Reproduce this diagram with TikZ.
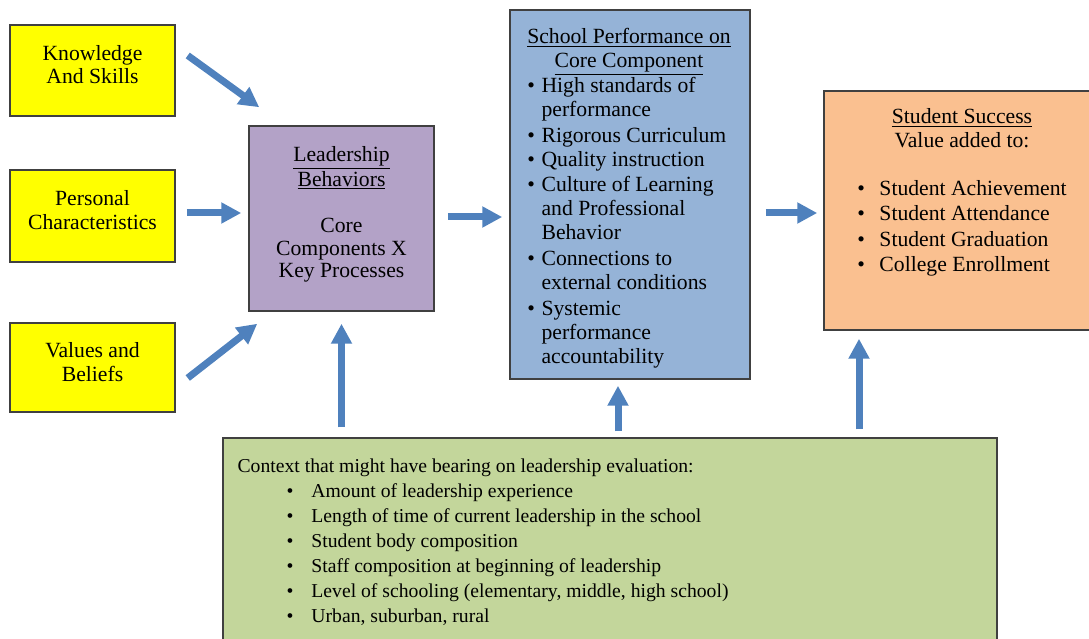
\documentclass[tikz,border=0pt]{standalone}
\usepackage{fontspec}
\setmainfont{Liberation Serif}
\usetikzlibrary{arrows.meta,calc}

\definecolor{arrowblue}{RGB}{79,129,189}
\definecolor{leadpurple}{RGB}{179,162,199}
\definecolor{schoolblue}{RGB}{149,179,215}
\definecolor{successorange}{RGB}{250,192,144}
\definecolor{contextgreen}{RGB}{195,214,155}
\definecolor{inputyellow}{RGB}{255,255,0}

\begin{document}
\begin{tikzpicture}[x=0.6pt, y=-0.6pt,
  box/.style={draw=black!75, line width=0.9pt, inner sep=0pt},
  boxtext/.style={inner sep=0pt, align=center, font=\fontsize{13}{14}\selectfont},
  flow/.style={line width=4.2pt, arrowblue, -{Triangle[width=12pt,length=12pt]}}]
\useasboundingbox (0,0) rectangle (1089,639);

% inputs on the left
\node[box, fill=inputyellow, minimum width=99pt, minimum height=54.6pt] (know) at (92.5,70.5) {};
\node[boxtext] (knowtext) at ($(know)+(0,-6)$) {Knowledge\\And Skills};
\node[box, fill=inputyellow, minimum width=99pt, minimum height=55.2pt] (pers) at (92.5,216) {};
\node[boxtext] (perstext) at ($(pers)+(0,-6)$) {Personal\\Characteristics};
\node[box, fill=inputyellow, minimum width=99pt, minimum height=53.4pt] (vals) at (92.5,367.5) {};
\node[boxtext] (valstext) at ($(vals)+(0,-5.5)$) {Values and\\Beliefs};

% leadership behaviors
\node[box, fill=leadpurple, minimum width=111pt, minimum height=111pt] (lead) at (341.5,218.5) {};
\node[boxtext, font=\fontsize{13}{13.6}\selectfont] (leadtext) at ($(lead)+(0,-4)$)
  {\underline{Leadership}\\\underline{Behaviors}\\[14.4pt]Core\\Components X\\Key Processes};

% school performance
\node[box, fill=schoolblue, minimum width=144pt, minimum height=221.4pt] (school) at (630,194.5) {};
\node[boxtext, font=\fontsize{13}{14.4}\selectfont] (schooltext) at ($(school)+(-1,4)$) {%
  \begin{tabular}{@{}l@{\hspace{4pt}}l@{}}
  \multicolumn{2}{@{}c@{}}{\underline{School Performance on}}\\
  \multicolumn{2}{@{}c@{}}{\underline{Core Component}}\\
  \textbullet & High standards of\\
   & performance\\[1pt]
  \textbullet & Rigorous Curriculum\\
  \textbullet & Quality instruction\\[1pt]
  \textbullet & Culture of Learning\\
   & and Professional\\
   & Behavior\\[1pt]
  \textbullet & Connections to\\
   & external conditions\\[1pt]
  \textbullet & Systemic\\
   & performance\\
   & accountability
  \end{tabular}};

% student success
\node[box, fill=successorange, minimum width=160.8pt, minimum height=143.4pt] (success) at (958,210.5) {};
\node[boxtext, anchor=north, font=\fontsize{13}{14.4}\selectfont] (successtext)
  at ($(success.north)+(4,16)$) {%
  \begin{tabular}{@{}l@{\hspace{8.7pt}}l@{}}
  \multicolumn{2}{@{}c@{}}{\underline{Student Success}}\\
  \multicolumn{2}{@{}c@{}}{Value added to:}\\
  \multicolumn{2}{@{}c@{}}{}\\
  \textbullet & Student Achievement\\[0.8pt]
  \textbullet & Student Attendance\\[0.8pt]
  \textbullet & Student Graduation\\[0.8pt]
  \textbullet & College Enrollment
  \end{tabular}};

% context
\node[box, fill=contextgreen, minimum width=464.4pt, minimum height=127.2pt] (context) at (610,544) {};
\node[boxtext, anchor=north west, align=left, font=\fontsize{11.8}{15}\selectfont] (contexttext)
  at ($(context.north west)+(15,17)$) {%
  \begin{tabular}{@{\hspace{29.4pt}}l@{\hspace{10.8pt}}l@{}}
  \multicolumn{2}{@{}l@{}}{Context that might have bearing on leadership evaluation:}\\
  \textbullet & Amount of leadership experience\\
  \textbullet & Length of time of current leadership in the school\\
  \textbullet & Student body composition\\
  \textbullet & Staff composition at beginning of leadership\\
  \textbullet & Level of schooling (elementary, middle, high school)\\
  \textbullet & Urban, suburban, rural
  \end{tabular}};

% arrows
\draw[flow] ($(know.east)+(12,-15)$) -- ($(lead.north west)+(11,-18)$);
\draw[flow] ($(pers.east)+(11,-3)$) -- ($(pers.east -| lead.west)+(-7,-3)$);
\draw[flow] ($(vals.east)+(12,10.5)$) -- ($(lead.south west)+(9,12)$);
\draw[flow] ($(lead.east)+(13,-1.5)$) -- ($(lead.east -| school.west)+(-7,-1.5)$);
\draw[flow] ($(success.west -| school.east)+(15,2.5)$) -- ($(success.west)+(-6,2.5)$);
\draw[flow] ($(lead.south |- context.north)+(0,-10)$) -- ($(lead.south)+(0,12)$);
\draw[flow] ($(school.south |- context.north)+(-12,-6)$) -- ($(school.south)+(-12,6)$);
\draw[flow] ($(success.south |- context.north)+(-99,-8)$) -- ($(success.south)+(-99,8)$);

\end{tikzpicture}
\end{document}
